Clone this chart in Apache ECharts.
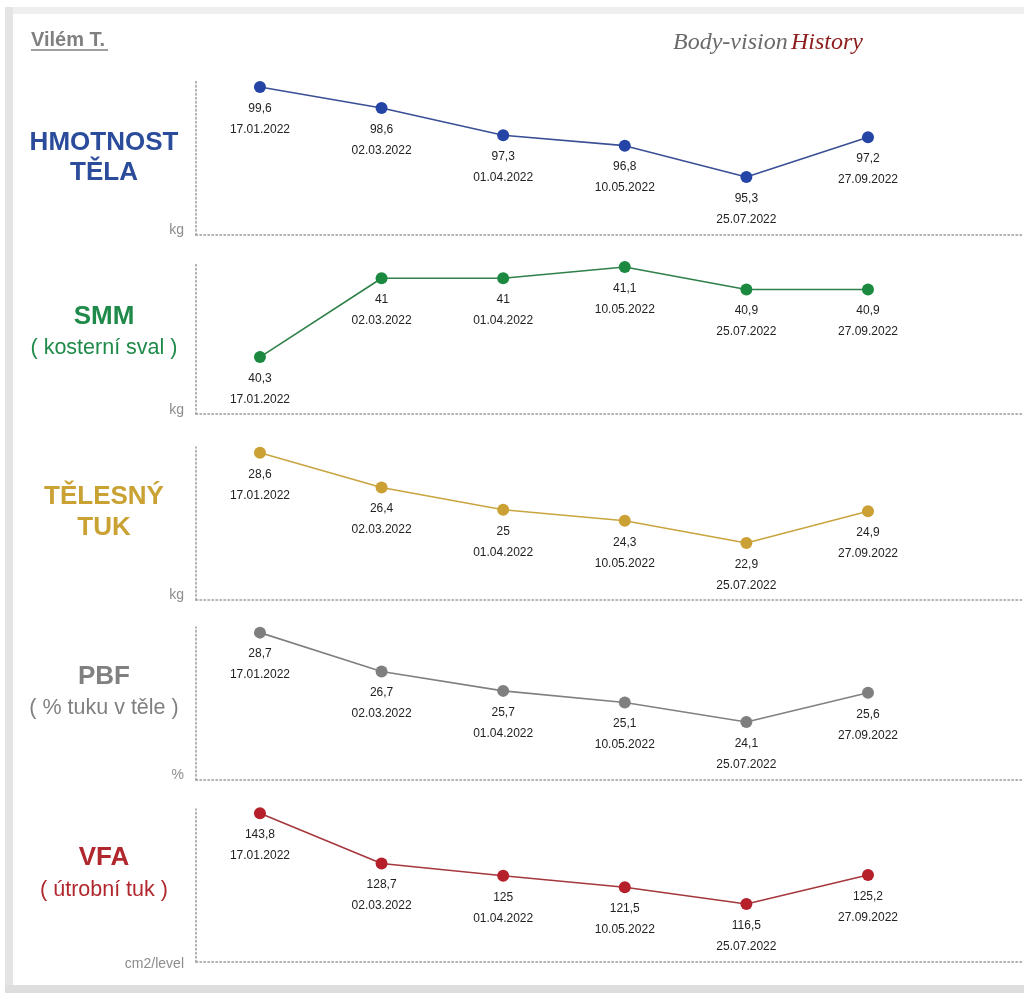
<!DOCTYPE html>
<html>
<head>
<meta charset="utf-8">
<script src="https://cdn.jsdelivr.net/npm/echarts@6/dist/echarts.min.js"></script>
<style>
html,body{margin:0;padding:0;background:#fff;}
#chart{width:1024px;height:998px;}
</style>
</head>
<body>
<div id="chart"></div>
<script>
// ---- data ----
const dates = ['17.01.2022','02.03.2022','01.04.2022','10.05.2022','25.07.2022','27.09.2022'];
const hmotnost = [99.6, 98.6, 97.3, 96.8, 95.3, 97.2];
const smm = [40.3, 41, 41, 41.1, 40.9, 40.9];
const telesnyTuk = [28.6, 26.4, 25, 24.3, 22.9, 24.9];
const pbf = [28.7, 26.7, 25.7, 25.1, 24.1, 25.6];
const vfa = [143.8, 128.7, 125, 121.5, 116.5, 125.2];
const titles = [['HMOTNOST','TĚLA'], ['SMM','( kosterní sval )'], ['TĚLESNÝ','TUK'], ['PBF','( % tuku v těle )'], ['VFA','( útrobní tuk )']];
const units = ['kg','kg','kg','%','cm2/level'];
const personName = 'Vilém T.';

// ---- layout / style ----
const seriesData = [hmotnost, smm, telesnyTuk, pbf, vfa];
const panels = [
  {top:81,  bottom:235, min:92.53, max:99.89, mark:'#2445a5', line:'#3a4f96', title:'#2b4c9b', sub:false, unitY:230},
  {top:262, bottom:414, min:39.795, max:41.144, mark:'#1b8a40', line:'#2f8049', title:'#1f8a49', sub:true, unitY:410},
  {top:447, bottom:600, min:19.3, max:28.96, mark:'#cba135', line:'#c9a540', title:'#c9a233', sub:false, unitY:595},
  {top:627, bottom:780, min:21.11, max:28.99, mark:'#7f7f7f', line:'#808080', title:'#808080', sub:true, unitY:775},
  {top:809, bottom:962, min:99.0, max:145.1, mark:'#b5202a', line:'#a5383d', title:'#b0272d', sub:true, unitY:964}
];
const titleY = [[143,173],[317,348],[497,528],[677,708],[858,890]];
const FONT = '"Liberation Sans", Arial, sans-serif';
const fmt = v => String(v).replace('.', ',');

const grids = [], xAxes = [], yAxes = [], series = [], graphics = [];
panels.forEach((p, k) => {
  grids.push({left:196, right:0, top:p.top, height:p.bottom - p.top, containLabel:false});
  xAxes.push({
    type:'value', gridIndex:k, min:-0.526, max:6.283,
    axisLine:{show:true, onZero:false, lineStyle:{color:'#9a9a9a', width:1.5, type:[1.5,2.5]}},
    axisTick:{show:false}, axisLabel:{show:false}, splitLine:{show:false}
  });
  yAxes.push({
    type:'value', gridIndex:k, min:p.min, max:p.max,
    axisLine:{show:true, onZero:false, lineStyle:{color:'#9a9a9a', width:1.5, type:[1.5,2.5]}},
    axisTick:{show:false}, axisLabel:{show:false}, splitLine:{show:false}
  });
  series.push({
    type:'line', xAxisIndex:k, yAxisIndex:k,
    data: dates.map((d, i) => ({name:d, value:[i, seriesData[k][i]]})),
    symbol:'circle', symbolSize:12,
    lineStyle:{color:p.line, width:1.6},
    itemStyle:{color:p.mark},
    label:{
      show:true, position:'bottom', distance:5,
      formatter: pr => fmt(pr.value[1]) + '\n' + pr.name,
      color:'#222', fontSize:12, lineHeight:21, fontFamily:FONT, align:'center'
    },
    emphasis:{disabled:true},
    animation:false
  });
  // left titles
  const t = titles[k];
  graphics.push({type:'text', style:{text:t[0], x:104, y:titleY[k][0], textAlign:'center', textVerticalAlign:'middle',
    fill:p.title, font:'bold 26px ' + FONT}});
  graphics.push({type:'text', style:{text:t[1], x:104, y:titleY[k][1], textAlign:'center', textVerticalAlign:'middle',
    fill:p.title, font:(p.sub ? '21.5px ' : 'bold 26px ') + FONT}});
  graphics.push({type:'text', style:{text:units[k], x:184, y:p.unitY, textAlign:'right', textVerticalAlign:'middle',
    fill:'#8c8c8c', font:'14px ' + FONT}});
});

// frame
graphics.push({type:'rect', shape:{x:5, y:7, width:1030, height:7}, style:{fill:'#efefef'}, z:-1});
graphics.push({type:'rect', shape:{x:5, y:7, width:8, height:986}, style:{fill:'#e4e4e4'}, z:-1});
graphics.push({type:'rect', shape:{x:5, y:985, width:1030, height:8}, style:{fill:'#dedede'}, z:-1});
// name
graphics.push({type:'text', style:{text:personName, x:31, y:40, textVerticalAlign:'middle', fill:'#808080', font:'bold 20px ' + FONT}});
graphics.push({type:'line', shape:{x1:31, y1:50, x2:108, y2:50}, style:{stroke:'#808080', lineWidth:1.5}});
// logo
graphics.push({type:'text', style:{
  text:'{a|Body-vision} {b|History}', x:673, y:43, textVerticalAlign:'middle',
  rich:{
    a:{fill:'#6a6a6a', font:'italic 24px "Liberation Serif", serif'},
    b:{fill:'#8e1c1c', font:'italic 24px "Liberation Serif", serif'}
  }
}});

const chart = echarts.init(document.getElementById('chart'), null, {renderer:'canvas'});
chart.setOption({
  animation:false,
  backgroundColor:'#ffffff',
  grid:grids, xAxis:xAxes, yAxis:yAxes, series:series,
  graphic:graphics
});
</script>
</body>
</html>
